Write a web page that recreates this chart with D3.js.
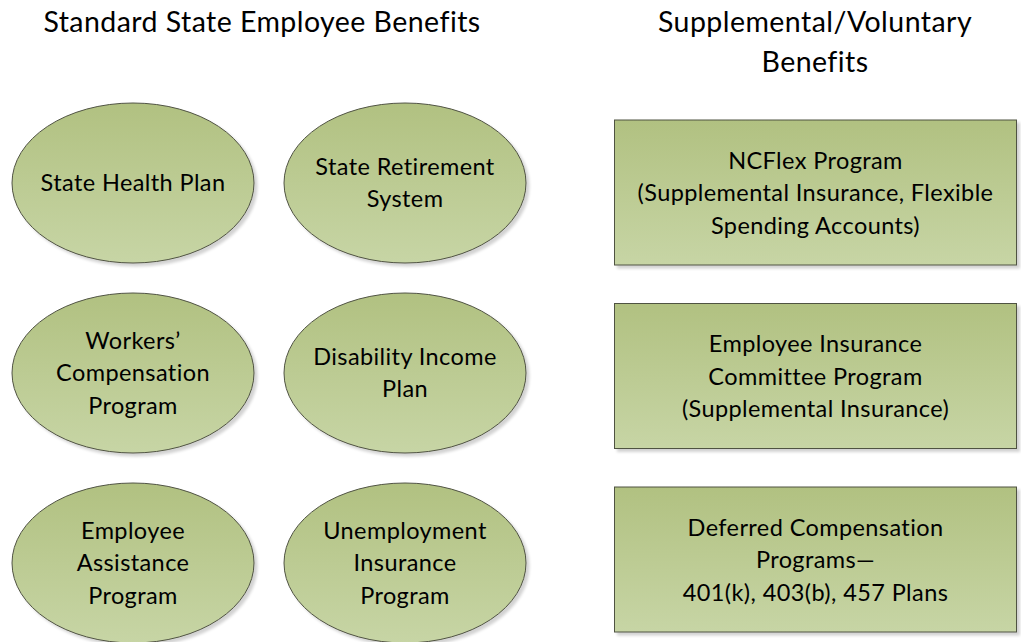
<!DOCTYPE html>
<html>
<head>
<meta charset="utf-8">
<script src="https://cdn.jsdelivr.net/npm/d3@7"></script>
<style>
  body { margin: 0; background: #fff; }
  text { font-family: Lato, 'Open Sans', sans-serif; fill: #000; }
</style>
</head>
<body>
<script>
// headings
var leftTitle = ['Standard State Employee Benefits'];
var rightTitle = ['Supplemental/Voluntary', 'Benefits'];

// ovals, in reading order (row, col)
var standardBenefits = [
  ['State Health Plan'],
  ['State Retirement', 'System'],
  ['Workers\u2019', 'Compensation', 'Program'],
  ['Disability Income', 'Plan'],
  ['Employee', 'Assistance', 'Program'],
  ['Unemployment', 'Insurance', 'Program']
];

// boxes
var supplementalBenefits = [
  ['NCFlex Program', '(Supplemental Insurance, Flexible', 'Spending Accounts)'],
  ['Employee Insurance', 'Committee Program', '(Supplemental Insurance)'],
  ['Deferred Compensation', 'Programs\u2014', '401(k), 403(b), 457 Plans']
];

var width = 1021, height = 642;
var lineH = 32.5;

var svg = d3.select('body').append('svg')
  .attr('width', width)
  .attr('height', height);

var defs = svg.append('defs');
var grad = defs.append('linearGradient')
  .attr('id', 'fillGrad')
  .attr('x1', 0).attr('y1', 0).attr('x2', 0).attr('y2', 1);
grad.append('stop').attr('offset', '0%').attr('stop-color', '#b1c181');
grad.append('stop').attr('offset', '100%').attr('stop-color', '#c7d5a5');

var shadow = defs.append('filter').attr('id', 'shadow')
  .attr('x', '-10%').attr('y', '-10%').attr('width', '125%').attr('height', '125%');
shadow.append('feGaussianBlur').attr('in', 'SourceAlpha').attr('stdDeviation', 1.5);
shadow.append('feOffset').attr('dx', 3).attr('dy', 3).attr('result', 'off');
shadow.append('feComponentTransfer').append('feFuncA').attr('type', 'linear').attr('slope', 0.18);
var merge = shadow.append('feMerge');
merge.append('feMergeNode');
merge.append('feMergeNode').attr('in', 'SourceGraphic');

// scales for layout
var col = d3.scalePoint().domain([0, 1]).range([133, 405]);
var row = d3.scalePoint().domain([0, 1, 2]).range([183, 563]);
var boxRow = d3.scalePoint().domain([0, 1, 2]).range([193, 560]);

function addLines(g, lines, size, lh, spacing) {
  var t = g.append('text')
    .attr('text-anchor', 'middle')
    .style('font-size', size + 'px')
    .style('letter-spacing', spacing + 'px');
  t.selectAll('tspan')
    .data(lines)
    .join('tspan')
    .attr('x', 0)
    .attr('y', function(d, i) { return (i - (lines.length - 1) / 2) * lh; })
    .attr('dy', '0.35em')
    .text(function(d) { return d; });
}

// titles
var lt = svg.append('g').attr('transform', 'translate(262,22)');
addLines(lt, leftTitle, 28.5, 40, 0.45);
var rt = svg.append('g').attr('transform', 'translate(815,42)');
addLines(rt, rightTitle, 28.5, 40, 0.45);

// ovals
var ov = svg.selectAll('g.oval')
  .data(standardBenefits)
  .join('g')
  .attr('class', 'oval')
  .attr('transform', function(d, i) {
    return 'translate(' + col(i % 2) + ',' + row(Math.floor(i / 2)) + ')';
  });

ov.append('ellipse')
  .attr('rx', 121)
  .attr('ry', 80)
  .attr('fill', 'url(#fillGrad)')
  .attr('stroke', '#4f5242')
  .attr('stroke-width', 1)
  .attr('filter', 'url(#shadow)');

ov.each(function(d) { addLines(d3.select(this), d, 23.5, lineH, 0.4); });

// boxes
var bx = svg.selectAll('g.box')
  .data(supplementalBenefits)
  .join('g')
  .attr('class', 'box')
  .attr('transform', function(d, i) { return 'translate(815.5,' + boxRow(i) + ')'; });

bx.append('rect')
  .attr('x', -201)
  .attr('y', -73)
  .attr('width', 402)
  .attr('height', 145)
  .attr('fill', 'url(#fillGrad)')
  .attr('stroke', '#4f5242')
  .attr('stroke-width', 1)
  .attr('filter', 'url(#shadow)');

bx.each(function(d) { addLines(d3.select(this), d, 23.5, lineH, 0.4); });
</script>
</body>
</html>
